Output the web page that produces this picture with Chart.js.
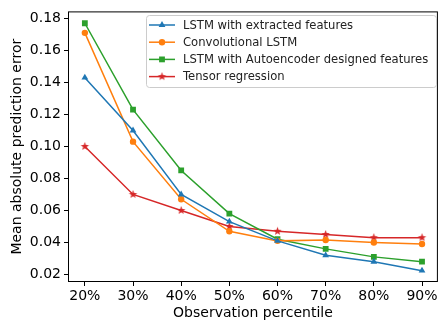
<!DOCTYPE html>
<html>
<head>
<meta charset="utf-8">
<script src="https://cdn.jsdelivr.net/npm/chart.js@4.4.0/dist/chart.umd.min.js"></script>
<style>
  html, body { margin: 0; padding: 0; background: #fff; }
  #wrap { width: 442px; height: 322px; }
</style>
</head>
<body>
<div id="wrap"><canvas id="chart" width="442" height="322"></canvas></div>
<script>
// data
var percentiles = ['20%', '30%', '40%', '50%', '60%', '70%', '80%', '90%'];
var lstmExtracted = [0.143, 0.110, 0.070, 0.053, 0.041, 0.032, 0.028, 0.0224];
var convLstm = [0.171, 0.103, 0.067, 0.047, 0.041, 0.0415, 0.040, 0.039];
var lstmAutoenc = [0.177, 0.123, 0.085, 0.058, 0.042, 0.036, 0.031, 0.028];
var tensorReg = [0.100, 0.070, 0.060, 0.050, 0.047, 0.045, 0.043, 0.043];
var yTicks = [0.02, 0.04, 0.06, 0.08, 0.10, 0.12, 0.14, 0.16, 0.18];

var FONT = 'DejaVu Sans';

// filled star marker like matplotlib '*'
function makeStar(color, r) {
    var c = document.createElement('canvas');
    var s = Math.ceil(r * 2 + 2);
    c.width = s; c.height = s;
    var g = c.getContext('2d');
    g.translate(s / 2, s / 2);
    g.beginPath();
    for (var i = 0; i < 10; i++) {
        var rad = i % 2 === 0 ? r : r * 0.42;
        var a = -Math.PI / 2 + i * Math.PI / 5;
        g.lineTo(Math.cos(a) * rad, Math.sin(a) * rad);
    }
    g.closePath();
    g.fillStyle = color;
    g.fill();
    return c;
}

function toPoints(arr) {
    return arr.map(function (v, i) { return { x: i, y: v }; });
}

var series = [
    { label: 'LSTM with extracted features', data: lstmExtracted, color: '#1f77b4', style: 'triangle', r: 3.9 },
    { label: 'Convolutional LSTM', data: convLstm, color: '#ff7f0e', style: 'circle', r: 3.2 },
    { label: 'LSTM with Autoencoder designed features', data: lstmAutoenc, color: '#2ca02c', style: 'rect', r: 4.1 },
    { label: 'Tensor regression', data: tensorReg, color: '#d62728', style: makeStar('#d62728', 4.4), r: 4 }
];

var datasets = series.map(function (s) {
    return {
        label: s.label,
        data: toPoints(s.data),
        borderColor: s.color,
        backgroundColor: s.color,
        borderWidth: 1.5,
        pointStyle: s.style,
        pointRadius: s.r,
        pointBorderWidth: 0,
        pointBackgroundColor: s.color,
        tension: 0
    };
});

// frame + legend inside the plot
var framePlugin = {
    id: 'frame',
    afterDraw: function (chart) {
        var ctx = chart.ctx;
        var a = chart.chartArea;
        ctx.save();
        ctx.strokeStyle = '#000';
        ctx.lineWidth = 1;
        ctx.strokeRect(a.left + 0.5, a.top + 0.5, a.right - a.left - 1, a.bottom - a.top - 1);

        // legend box
        var bx = 146, by = 15, bw = 290, bh = 72;
        ctx.beginPath();
        ctx.roundRect(bx + 0.5, by + 0.5, bw, bh, 3);
        ctx.fillStyle = 'rgba(255,255,255,0.8)';
        ctx.fill();
        ctx.strokeStyle = '#cccccc';
        ctx.stroke();

        ctx.font = '11.6px "' + FONT + '"';
        ctx.textBaseline = 'middle';
        ctx.textAlign = 'left';
        series.forEach(function (s, i) {
            var y = 25 + i * 17.2;
            ctx.strokeStyle = s.color;
            ctx.lineWidth = 1.5;
            ctx.beginPath();
            ctx.moveTo(149, y);
            ctx.lineTo(175, y);
            ctx.stroke();
            ctx.fillStyle = s.color;
            Chart.helpers.drawPoint(ctx, { pointStyle: s.style, radius: s.r, rotation: 0, borderWidth: 0 }, 162, y);
            ctx.fillStyle = '#222';
            ctx.fillText(s.label, 183, y + 0.5);
        });
        ctx.restore();
    }
};

var ctx = document.getElementById('chart').getContext('2d');
var chart = new Chart(ctx, {
    type: 'line',
    data: { datasets: datasets },
    plugins: [framePlugin],
    options: {
        responsive: false,
        animation: false,
        events: [],
        layout: { padding: { top: 10, right: 1, left: 0, bottom: 0 } },
        plugins: {
            legend: { display: false },
            tooltip: { enabled: false }
        },
        scales: {
            x: {
                type: 'linear',
                min: -0.35,
                max: 7.33,
                afterBuildTicks: function (axis) {
                    axis.ticks = percentiles.map(function (p, i) { return { value: i }; });
                },
                afterFit: function (axis) { axis.height = 40; },
                ticks: {
                    autoSkip: false,
                    maxRotation: 0,
                    padding: 2,
                    color: '#000',
                    font: { family: FONT, size: 14 },
                    callback: function (v) { return percentiles[v]; }
                },
                grid: { display: true, drawOnChartArea: false, drawTicks: true, tickLength: 4, color: '#000' },
                border: { display: false },
                title: {
                    display: true,
                    text: 'Observation percentile',
                    color: '#000',
                    font: { family: FONT, size: 14 },
                    padding: { top: 0, bottom: 0 }
                }
            },
            y: {
                min: 0.0153,
                max: 0.1844,
                afterBuildTicks: function (axis) {
                    axis.ticks = yTicks.map(function (v) { return { value: v }; });
                },
                afterFit: function (axis) { axis.width = 68; },
                ticks: {
                    padding: 3,
                    color: '#000',
                    font: { family: FONT, size: 14 },
                    callback: function (v) { return v.toFixed(2); }
                },
                grid: { display: true, drawOnChartArea: false, drawTicks: true, tickLength: 4, color: '#000' },
                border: { display: false },
                title: {
                    display: true,
                    text: 'Mean absolute prediction error',
                    color: '#000',
                    font: { family: FONT, size: 14 },
                    padding: { top: 9, bottom: 0 }
                }
            }
        }
    }
});
</script>
</body>
</html>
